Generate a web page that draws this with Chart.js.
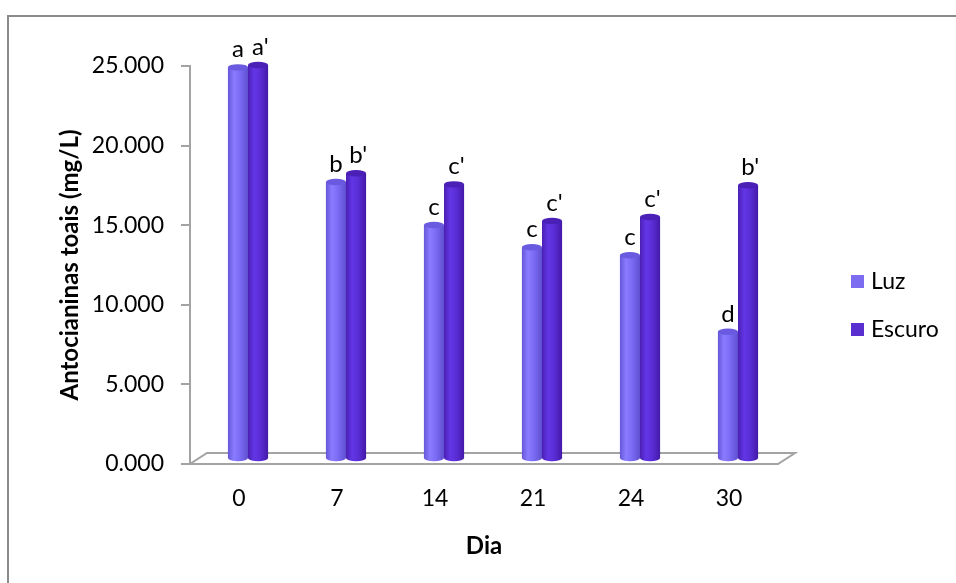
<!DOCTYPE html>
<html>
<head>
<meta charset="utf-8">
<script src="https://cdn.jsdelivr.net/npm/chart.js@4/dist/chart.umd.min.js"></script>
<style>
  html, body { margin: 0; padding: 0; background: #ffffff; }
  #wrap { width: 956px; height: 583px; }
</style>
</head>
<body>
<div id="wrap"><canvas id="c" width="956" height="583"></canvas></div>
<script>
// Dias de armazenamento
const categories = ['0', '7', '14', '21', '24', '30'];
// Antocianinas totais (mg/L)
const luz    = [24.6, 17.4, 14.7, 13.3, 12.8, 8.0];
const escuro = [24.75, 17.95, 17.25, 14.95, 15.2, 17.2];
// Letras de significância
const luzLetters    = ['a', 'b', 'c', 'c', 'c', 'd'];
const escuroLetters = ["a'", "b'", "c'", "c'", "c'", "b'"];
const yTicks = [0, 5, 10, 15, 20, 25];

const FONT = 'Lato, "Liberation Sans", sans-serif';
const AXIS_GRAY = '#a3a3a3';
const DEPTH = { x: 17, y: -11 };      // floor depth vector
const BAR_SHIFT = { x: 9, y: -5 };    // columns stand halfway into the floor

const palettes = [
  { edgeL: '#6656d8', light: '#8a7cff', mid: '#7a6bf4', edgeR: '#5f4fcf', top: '#6a5ae0', legend: '#7b6cf0' },
  { edgeL: '#4a1fb4', light: '#6236e4', mid: '#5a2ed6', edgeR: '#4419a8', top: '#4a20b6', legend: '#5a2fd0' }
];

const frameAndFloor = {
  id: 'frameAndFloor',
  beforeDraw(chart) {
    const ctx = chart.ctx;
    ctx.save();
    ctx.fillStyle = '#ffffff';
    ctx.fillRect(0, 0, chart.width, chart.height);
    ctx.strokeStyle = '#8a8a8a';
    ctx.lineWidth = 2;
    ctx.beginPath();
    ctx.moveTo(8, chart.height + 5);
    ctx.lineTo(8, 16);
    ctx.lineTo(chart.width + 5, 16);
    ctx.stroke();
    ctx.restore();
  },
  beforeDatasetsDraw(chart) {
    const ctx = chart.ctx;
    const a = chart.chartArea;
    const y0 = chart.scales.y.getPixelForValue(0);
    ctx.save();
    ctx.strokeStyle = AXIS_GRAY;
    ctx.lineWidth = 2;
    ctx.fillStyle = '#ffffff';
    ctx.beginPath();
    ctx.moveTo(a.left, y0);
    ctx.lineTo(a.right, y0);
    ctx.lineTo(a.right + DEPTH.x, y0 + DEPTH.y);
    ctx.lineTo(a.left + DEPTH.x, y0 + DEPTH.y);
    ctx.closePath();
    ctx.fill();
    ctx.stroke();
    ctx.restore();
  }
};

function drawCylinder(ctx, cx, top, base, w, p) {
  const l = cx - w / 2, r = cx + w / 2, ry = 3.2;
  const g = ctx.createLinearGradient(l, 0, r, 0);
  g.addColorStop(0, p.edgeL);
  g.addColorStop(0.3, p.light);
  g.addColorStop(0.6, p.mid);
  g.addColorStop(1, p.edgeR);
  ctx.fillStyle = g;
  ctx.beginPath();
  ctx.moveTo(l, top);
  ctx.lineTo(l, base);
  ctx.ellipse(cx, base, w / 2, ry, 0, Math.PI, 0, true);
  ctx.lineTo(r, top);
  ctx.closePath();
  ctx.fill();
  ctx.fillStyle = p.top;
  ctx.beginPath();
  ctx.ellipse(cx, top, w / 2, ry, 0, 0, Math.PI * 2);
  ctx.fill();
}

const cylinders = {
  id: 'cylinders',
  afterDatasetsDraw(chart) {
    const ctx = chart.ctx;
    const letters = [luzLetters, escuroLetters];
    ctx.save();
    chart.data.datasets.forEach((ds, di) => {
      const meta = chart.getDatasetMeta(di);
      if (meta.hidden) return;
      meta.data.forEach((el, i) => {
        const cx = el.x + BAR_SHIFT.x;
        const top = el.y + BAR_SHIFT.y;
        const base = el.base + BAR_SHIFT.y;
        drawCylinder(ctx, cx, top, base, el.width, palettes[di]);
      });
    });
    // letters above the columns
    ctx.fillStyle = '#000000';
    ctx.font = '24px ' + FONT;
    ctx.textBaseline = 'alphabetic';
    ctx.textAlign = 'left';
    chart.data.datasets.forEach((ds, di) => {
      const meta = chart.getDatasetMeta(di);
      meta.data.forEach((el, i) => {
        const txt = letters[di][i];
        const core = txt.replace("'", '');
        const wCore = ctx.measureText(core).width;
        ctx.fillText(txt, el.x + BAR_SHIFT.x - wCore / 2, el.y + BAR_SHIFT.y - 10);
      });
    });
    ctx.restore();
  }
};

const sideLegend = {
  id: 'sideLegend',
  afterDraw(chart) {
    const ctx = chart.ctx;
    ctx.save();
    ctx.font = '23px ' + FONT;
    ctx.textBaseline = 'middle';
    ctx.textAlign = 'left';
    chart.data.datasets.forEach((ds, di) => {
      const y = 282 + di * 48;
      ctx.fillStyle = palettes[di].legend;
      ctx.fillRect(851, y - 7, 13, 13);
      ctx.fillStyle = '#000000';
      ctx.fillText(ds.label, 871, y);
    });
    ctx.restore();
  }
};

new Chart(document.getElementById('c'), {
  type: 'bar',
  data: {
    labels: categories,
    datasets: [
      { label: 'Luz', data: luz, backgroundColor: 'rgba(0,0,0,0)', borderWidth: 0 },
      { label: 'Escuro', data: escuro, backgroundColor: 'rgba(0,0,0,0)', borderWidth: 0 }
    ]
  },
  options: {
    responsive: false,
    animation: false,
    events: [],
    datasets: { bar: { categoryPercentage: 0.41, barPercentage: 1.0 } },
    layout: { padding: { left: 48, right: 178, top: 66, bottom: 18 } },
    plugins: { legend: { display: false }, tooltip: { enabled: false } },
    scales: {
      x: {
        afterFit(s) { s.height = 101; },
        grid: { display: false, drawTicks: false },
        border: { display: false },
        ticks: { font: { family: FONT, size: 23 }, color: '#000000', padding: 21 },
        title: {
          display: true, text: 'Dia', color: '#000000',
          font: { family: FONT, size: 24, weight: 'bold' },
          padding: { top: 0, bottom: 4 }
        }
      },
      y: {
        min: 0, max: 25,
        afterFit(s) { s.width = 142; },
        afterBuildTicks(s) { s.ticks = yTicks.map(v => ({ value: v })); },
        grid: { drawOnChartArea: false, drawTicks: true, tickLength: 9, color: AXIS_GRAY, lineWidth: 2 },
        border: { display: true, color: AXIS_GRAY, width: 2 },
        ticks: {
          font: { family: FONT, size: 23 }, color: '#000000', padding: 17,
          callback: v => Number(v).toFixed(3)
        },
        title: {
          display: true, text: 'Antocianinas toais (mg/L)', color: '#000000',
          font: { family: FONT, size: 24, weight: 'bold' },
          padding: { top: 8, bottom: 0 }
        }
      }
    }
  },
  plugins: [frameAndFloor, cylinders, sideLegend]
});
</script>
</body>
</html>
